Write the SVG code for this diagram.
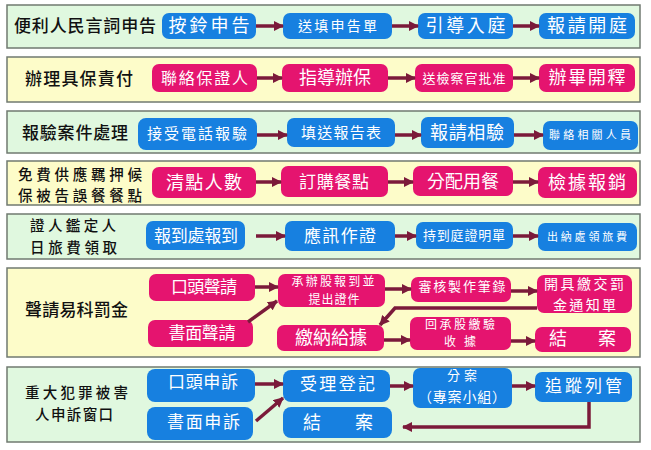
<svg xmlns="http://www.w3.org/2000/svg" width="651" height="450" viewBox="0 0 651 450">
<style>
.pg{fill:#e0f8df;stroke:#707a70;stroke-width:1.5}
.py{fill:#fdfcc9;stroke:#707a70;stroke-width:1.5}
.b{fill:#1780e0}
.m{fill:#e5146f}
.t{fill:#fff;font-family:"Noto Sans CJK TC","Noto Sans CJK SC",sans-serif;text-anchor:middle}
.l{fill:#111;font-family:"Noto Sans CJK TC","Noto Sans CJK SC",sans-serif;font-size:17px;font-weight:500}
.l2{font-size:14.5px}
.a{stroke:#7b1a3a;stroke-width:3.5;fill:none;marker-end:url(#ah)}
</style>
<defs>
<marker id="ah" viewBox="0 0 10 10" refX="9" refY="5" markerWidth="10" markerHeight="10" markerUnits="userSpaceOnUse" orient="auto">
<path d="M0,0 L10,5 L0,10 z" fill="#7b1a3a"/>
</marker>
</defs>
<rect width="651" height="450" fill="#fff"/>
<g id="panels">
<rect class="pg" x="7" y="5" width="633" height="43"/>
<rect class="py" x="7" y="57" width="633" height="45"/>
<rect class="pg" x="7" y="111" width="633" height="42"/>
<rect class="py" x="7" y="161" width="633" height="44"/>
<rect class="pg" x="7" y="214" width="633" height="45"/>
<rect class="py" x="7" y="268" width="633" height="89"/>
<rect class="pg" x="7" y="367" width="633" height="75"/>
</g>
<g id="labels">
<text class="l" x="14" y="32" textLength="142" lengthAdjust="spacing">便利人民言詞申告</text>
<text class="l" x="25" y="85" textLength="108" lengthAdjust="spacing">辦理具保責付</text>
<text class="l" x="22" y="139" textLength="106" lengthAdjust="spacing">報驗案件處理</text>
<text class="l l2" x="18" y="179.5" textLength="124" lengthAdjust="spacing">免費供應羈押候</text>
<text class="l l2" x="18" y="201" textLength="124" lengthAdjust="spacing">保被告誤餐餐點</text>
<text class="l l2" x="30" y="231" textLength="86" lengthAdjust="spacing">證人鑑定人</text>
<text class="l l2" x="30" y="252.5" textLength="87" lengthAdjust="spacing">日旅費領取</text>
<text class="l" x="25" y="316" textLength="103" lengthAdjust="spacing">聲請易科罰金</text>
<text class="l l2" x="25" y="398" textLength="103" lengthAdjust="spacing">重大犯罪被害</text>
<text class="l l2" x="35" y="419.5" textLength="78" lengthAdjust="spacing">人申訴窗口</text>
</g>
<g id="r1n1"><rect class="b" x="162" y="13" width="94" height="26" rx="7"/><text class="t" x="209" y="32" font-size="18" textLength="81" lengthAdjust="spacing">按鈴申告</text></g>
<g id="r1n2"><rect class="b" x="283" y="13" width="109" height="26" rx="7"/><text class="t" x="337.5" y="31" font-size="14" textLength="79" lengthAdjust="spacing">送填申告單</text></g>
<g id="r1n3"><rect class="b" x="418" y="13" width="95" height="26" rx="7"/><text class="t" x="465.5" y="32" font-size="18" textLength="80" lengthAdjust="spacing">引導入庭</text></g>
<g id="r1n4"><rect class="b" x="539" y="13" width="96" height="26" rx="7"/><text class="t" x="587" y="32" font-size="18" textLength="80" lengthAdjust="spacing">報請開庭</text></g>
<g id="r2n1"><rect class="m" x="152" y="64" width="105" height="28" rx="7"/><text class="t" x="204.5" y="84" font-size="16" textLength="87" lengthAdjust="spacing">聯絡保證人</text></g>
<g id="r2n2"><rect class="m" x="282" y="64" width="106" height="28" rx="7"/><text class="t" x="335" y="84" font-size="18" textLength="72" lengthAdjust="spacing">指導辦保</text></g>
<g id="r2n3"><rect class="m" x="415" y="64" width="98" height="28" rx="7"/><text class="t" x="464" y="83" font-size="13" textLength="83" lengthAdjust="spacing">送檢察官批准</text></g>
<g id="r2n4"><rect class="m" x="539" y="64" width="96" height="28" rx="7"/><text class="t" x="587" y="84" font-size="18" textLength="77" lengthAdjust="spacing">辦畢開釋</text></g>
<g id="r3n1"><rect class="b" x="138" y="118" width="119" height="32" rx="8"/><text class="t" x="197" y="139" font-size="15" textLength="100" lengthAdjust="spacing">接受電話報驗</text></g>
<g id="r3n2"><rect class="b" x="287" y="118" width="108" height="29" rx="7"/><text class="t" x="341" y="138" font-size="15" textLength="80" lengthAdjust="spacing">填送報告表</text></g>
<g id="r3n3"><rect class="b" x="421" y="117" width="93" height="31" rx="7"/><text class="t" x="467" y="139" font-size="18" textLength="74" lengthAdjust="spacing">報請相驗</text></g>
<g id="r3n4"><rect class="b" x="543" y="121" width="95" height="29" rx="7"/><text class="t" x="590" y="139" font-size="11" textLength="82" lengthAdjust="spacing">聯絡相關人員</text></g>
<g id="r4n1"><rect class="m" x="152" y="167" width="104" height="31" rx="7"/><text class="t" x="204" y="189" font-size="18" textLength="76" lengthAdjust="spacing">清點人數</text></g>
<g id="r4n2"><rect class="m" x="281" y="166" width="107" height="31" rx="7"/><text class="t" x="334" y="188" font-size="17" textLength="70" lengthAdjust="spacing">訂購餐點</text></g>
<g id="r4n3"><rect class="m" x="413" y="166" width="100" height="30" rx="7"/><text class="t" x="463" y="188" font-size="18" textLength="72" lengthAdjust="spacing">分配用餐</text></g>
<g id="r4n4"><rect class="m" x="538" y="167" width="99" height="31" rx="7"/><text class="t" x="587" y="189" font-size="18" textLength="78" lengthAdjust="spacing">檢據報銷</text></g>
<g id="r5n1"><rect class="b" x="146" y="221" width="99" height="29" rx="7"/><text class="t" x="196" y="242" font-size="17" textLength="84" lengthAdjust="spacing">報到處報到</text></g>
<g id="r5n2"><rect class="b" x="285" y="221" width="110" height="30" rx="7"/><text class="t" x="340" y="242" font-size="17" textLength="72" lengthAdjust="spacing">應訊作證</text></g>
<g id="r5n3"><rect class="b" x="416" y="222" width="97" height="27" rx="7"/><text class="t" x="464" y="240" font-size="13" textLength="82" lengthAdjust="spacing">持到庭證明單</text></g>
<g id="r5n4"><rect class="b" x="538" y="223" width="99" height="28" rx="7"/><text class="t" x="587" y="241" font-size="11" textLength="80" lengthAdjust="spacing">出納處領旅費</text></g>
<g id="r6n1"><rect class="m" x="149" y="274" width="106" height="27" rx="7"/><text class="t" x="204" y="293" font-size="17" textLength="66" lengthAdjust="spacing">口頭聲請</text></g>
<g id="r6n2"><rect class="m" x="148" y="320" width="105" height="27" rx="7"/><text class="t" x="202" y="339" font-size="17" textLength="67" lengthAdjust="spacing">書面聲請</text></g>
<g id="r6n3"><rect class="m" x="278" y="274" width="107" height="33" rx="7"/><text class="t" x="333" y="286" font-size="12" textLength="83" lengthAdjust="spacing">承辦股報到並</text><text class="t" x="334" y="303.5" font-size="12" textLength="51" lengthAdjust="spacing">提出證件</text></g>
<g id="r6n4"><rect class="m" x="411" y="277" width="100" height="25" rx="7"/><text class="t" x="462" y="291" font-size="13" textLength="87" lengthAdjust="spacing">審核製作筆錄</text></g>
<g id="r6n5"><rect class="m" x="537" y="275" width="95" height="38" rx="7"/><text class="t" x="584" y="289" font-size="14" textLength="80" lengthAdjust="spacing">開具繳交罰</text><text class="t" x="584.5" y="309.5" font-size="14" textLength="63" lengthAdjust="spacing">金通知單</text></g>
<g id="r6n6"><rect class="m" x="277" y="325" width="107" height="26" rx="7"/><text class="t" x="331" y="344" font-size="18" textLength="72" lengthAdjust="spacing">繳納給據</text></g>
<g id="r6n7"><rect class="m" x="410" y="317" width="101" height="33" rx="7"/><text class="t" x="460" y="328.5" font-size="12" textLength="70" lengthAdjust="spacing">回承股繳驗</text><text class="t" x="460" y="346" font-size="12" textLength="32" lengthAdjust="spacing">收據</text></g>
<g id="r6n8"><rect class="m" x="535" y="327" width="96" height="25" rx="7"/><text class="t" x="582.5" y="345" font-size="18" textLength="67" lengthAdjust="spacing">結 案</text></g>
<g id="r7n1"><rect class="b" x="147" y="369" width="108" height="33" rx="8"/><text class="t" x="203" y="388" font-size="17" textLength="70" lengthAdjust="spacing">口頭申訴</text></g>
<g id="r7n2"><rect class="b" x="147" y="407" width="106" height="33" rx="8"/><text class="t" x="203.5" y="428" font-size="17" textLength="73" lengthAdjust="spacing">書面申訴</text></g>
<g id="r7n3"><rect class="b" x="283" y="370" width="107" height="32" rx="8"/><text class="t" x="337.5" y="390" font-size="17" textLength="75" lengthAdjust="spacing">受理登記</text></g>
<g id="r7n4"><rect class="b" x="413" y="368" width="99" height="40" rx="7"/><text class="t" x="462" y="380" font-size="13" textLength="30" lengthAdjust="spacing">分案</text><text class="t" x="462" y="402" font-size="14" textLength="88" lengthAdjust="spacing">（專案小組）</text></g>
<g id="r7n5"><rect class="b" x="535" y="372" width="97" height="30" rx="7"/><text class="t" x="583.5" y="392" font-size="17" textLength="77" lengthAdjust="spacing">追蹤列管</text></g>
<g id="r7n6"><rect class="b" x="283" y="407" width="109" height="31" rx="8"/><text class="t" x="338" y="429" font-size="18" textLength="70" lengthAdjust="spacing">結 案</text></g>
<g id="connectors">
<line class="a" x1="256" y1="26" x2="283" y2="26"/>
<line class="a" x1="392" y1="26" x2="418" y2="26"/>
<line class="a" x1="513" y1="26" x2="539" y2="26"/>
<line class="a" x1="257" y1="78" x2="282" y2="78"/>
<line class="a" x1="388" y1="78" x2="415" y2="78"/>
<line class="a" x1="513" y1="78" x2="539" y2="78"/>
<line class="a" x1="257" y1="135" x2="287" y2="135"/>
<line class="a" x1="395" y1="135" x2="421" y2="135"/>
<line class="a" x1="514" y1="135" x2="543" y2="135"/>
<line class="a" x1="256" y1="182" x2="281" y2="182"/>
<line class="a" x1="388" y1="182" x2="413" y2="182"/>
<line class="a" x1="513" y1="182" x2="538" y2="182"/>
<line class="a" x1="256" y1="236" x2="285" y2="236"/>
<line class="a" x1="395" y1="236" x2="416" y2="236"/>
<line class="a" x1="513" y1="236" x2="538" y2="236"/>
<line class="a" x1="255" y1="287" x2="278" y2="287"/>
<line class="a" x1="248" y1="322" x2="277" y2="301"/>
<line class="a" x1="385" y1="289" x2="411" y2="289"/>
<line class="a" x1="511" y1="291" x2="537" y2="291"/>
<polyline class="a" points="537,308 395,308 380,325"/>
<line class="a" x1="384" y1="340" x2="410" y2="340"/>
<line class="a" x1="511" y1="341" x2="535" y2="341"/>
<line class="a" x1="255" y1="384" x2="283" y2="384"/>
<line class="a" x1="256" y1="421" x2="283" y2="398"/>
<line class="a" x1="390" y1="386" x2="413" y2="386"/>
<line class="a" x1="512" y1="386" x2="535" y2="386"/>
<polyline class="a" points="589,402 589,427 403,427"/>
</g>
</svg>
